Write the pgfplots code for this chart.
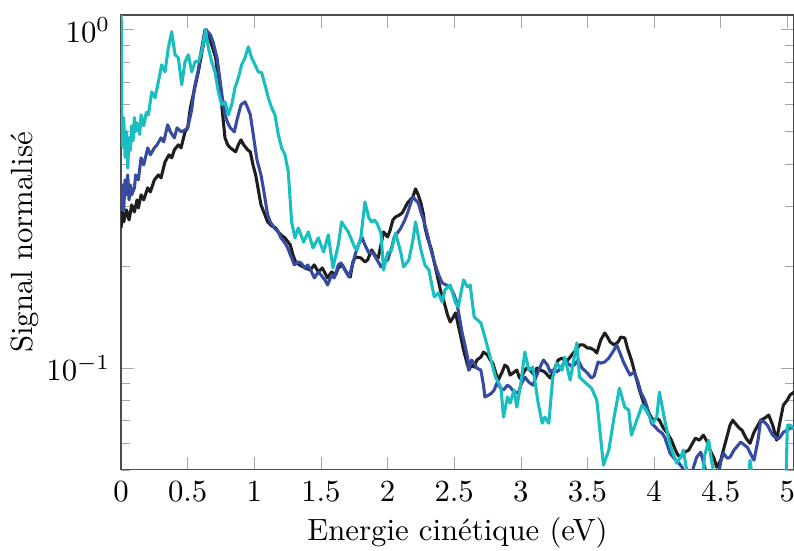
\documentclass[border=0pt]{standalone}
\usepackage{pgfplots}
\pgfplotsset{compat=1.18}
\definecolor{cblack}{RGB}{30,30,30}
\definecolor{cblue}{RGB}{55,75,160}
\definecolor{ccyan}{RGB}{25,190,192}
\begin{document}
\begin{tikzpicture}
\begin{axis}[
  scale only axis, width=219pt, height=148pt,
  ymode=log, xmin=0, xmax=5.05, ymin=0.05, ymax=1.105,
  xtick={0,0.5,1,1.5,2,2.5,3,3.5,4,4.5,5},
  xticklabels={0,0.5,1,1.5,2,2.5,3,3.5,4,4.5,5},
  xlabel={Energie cinétique (eV)}, ylabel={Signal normalisé},
  ylabel style={yshift=-4.5pt},
  xlabel style={yshift=2pt},
  axis line style={black!70},
  tick style={black!35},
  every axis plot/.append style={line width=1pt, line join=round},
]
\addplot[cblack] coordinates {
(0.00,0.2595)(0.01,0.2893)(0.02,0.2703)(0.04,0.2933)(0.06,0.2740)(0.08,0.3035)(0.10,0.2893)(0.12,0.3140)(0.13,0.2973)(0.15,0.3249)(0.17,0.3140)(0.20,0.3408)(0.22,0.3316)(0.25,0.3599)(0.28,0.3723)(0.30,0.3648)(0.33,0.4068)(0.36,0.4267)(0.38,0.4181)(0.40,0.4415)(0.43,0.4568)(0.45,0.4475)(0.48,0.4990)(0.50,0.5128)(0.52,0.5877)(0.55,0.6644)(0.58,0.7510)(0.61,0.8726)(0.64,1.0)(0.66,0.9469)(0.68,0.9028)(0.71,0.8263)(0.73,0.7113)(0.75,0.6292)(0.77,0.5235)(0.78,0.4791)(0.80,0.4568)(0.82,0.4475)(0.84,0.4415)(0.86,0.4355)(0.88,0.4568)(0.90,0.4726)(0.92,0.4568)(0.95,0.4415)(0.97,0.4355)(0.99,0.3986)(1.01,0.3723)(1.03,0.3362)(1.05,0.3035)(1.08,0.2835)(1.10,0.2703)(1.13,0.2630)(1.16,0.2595)(1.18,0.2525)(1.20,0.2474)(1.23,0.2424)(1.27,0.2311)(1.29,0.2159)(1.31,0.2059)(1.34,0.2017)(1.38,0.1976)(1.42,0.1949)(1.45,0.2017)(1.48,0.1923)(1.51,0.1976)(1.55,0.1846)(1.58,0.1923)(1.61,0.1884)(1.63,0.1976)(1.66,0.2017)(1.69,0.1923)(1.72,0.1858)(1.74,0.2059)(1.76,0.2130)(1.80,0.2116)(1.83,0.2059)(1.85,0.2087)(1.88,0.2234)(1.91,0.2144)(1.93,0.2116)(1.95,0.2311)(1.97,0.2525)(2.00,0.2440)(2.02,0.2560)(2.04,0.2740)(2.06,0.2796)(2.09,0.2835)(2.11,0.2874)(2.13,0.2973)(2.15,0.3077)(2.17,0.3140)(2.19,0.3205)(2.21,0.3385)(2.23,0.3249)(2.25,0.3077)(2.27,0.2835)(2.28,0.2612)(2.30,0.2424)(2.33,0.2234)(2.35,0.2059)(2.38,0.1821)(2.40,0.1678)(2.42,0.1589)(2.45,0.1435)(2.47,0.1368)(2.49,0.1406)(2.51,0.1455)(2.53,0.1340)(2.55,0.1235)(2.57,0.1130)(2.59,0.1056)(2.61,0.0986)(2.63,0.1020)(2.65,0.1006)(2.67,0.1056)(2.70,0.1077)(2.72,0.1115)(2.75,0.1092)(2.77,0.1056)(2.79,0.1034)(2.81,0.0973)(2.83,0.0921)(2.86,0.0973)(2.88,0.1020)(2.90,0.1006)(2.92,0.0953)(2.94,0.0966)(2.97,0.0986)(2.99,0.0934)(3.01,0.0953)(3.04,0.0999)(3.07,0.0986)(3.10,0.0953)(3.12,0.0999)(3.15,0.0986)(3.18,0.0973)(3.20,0.0953)(3.22,0.0934)(3.25,0.0986)(3.28,0.1056)(3.31,0.1070)(3.34,0.1042)(3.37,0.1077)(3.40,0.1115)(3.42,0.1130)(3.44,0.1170)(3.47,0.1170)(3.50,0.1146)(3.52,0.1146)(3.55,0.1130)(3.57,0.1107)(3.60,0.1210)(3.63,0.1269)(3.65,0.1235)(3.67,0.1194)(3.70,0.1170)(3.73,0.1194)(3.75,0.1235)(3.78,0.1227)(3.80,0.1146)(3.83,0.1056)(3.86,0.0953)(3.89,0.0861)(3.92,0.0793)(3.94,0.0751)(3.97,0.0726)(3.99,0.0701)(4.02,0.0711)(4.04,0.0701)(4.07,0.0664)(4.10,0.0642)(4.13,0.0612)(4.16,0.0572)(4.18,0.0552)(4.20,0.0545)(4.23,0.0564)(4.26,0.0572)(4.28,0.0591)(4.31,0.0620)(4.34,0.0612)(4.37,0.0633)(4.40,0.0604)(4.42,0.0572)(4.45,0.0541)(4.47,0.0509)(4.50,0.0534)(4.52,0.0572)(4.55,0.0633)(4.57,0.0678)(4.59,0.0701)(4.62,0.0678)(4.64,0.0664)(4.66,0.0655)(4.69,0.0620)(4.72,0.0599)(4.75,0.0646)(4.78,0.0678)(4.80,0.0701)(4.83,0.0711)(4.86,0.0726)(4.89,0.0678)(4.92,0.0612)(4.94,0.0678)(4.97,0.0777)(5.00,0.0804)(5.02,0.0832)(5.05,0.0849)
};
\addplot[cblue] coordinates {
(0.00,0.3140)(0.01,0.3478)(0.02,0.2933)(0.03,0.3599)(0.04,0.3249)(0.05,0.3723)(0.06,0.3140)(0.07,0.3478)(0.08,0.3249)(0.10,0.3408)(0.11,0.3723)(0.13,0.3599)(0.15,0.4181)(0.17,0.3986)(0.20,0.4475)(0.22,0.4267)(0.25,0.4475)(0.27,0.4568)(0.30,0.4791)(0.32,0.4662)(0.35,0.5235)(0.37,0.4990)(0.40,0.4791)(0.42,0.5128)(0.45,0.4990)(0.48,0.5059)(0.50,0.5128)(0.53,0.5798)(0.55,0.6735)(0.58,0.7614)(0.60,0.8607)(0.63,1.0)(0.65,0.9864)(0.67,0.9665)(0.69,0.9214)(0.72,0.8263)(0.74,0.7210)(0.76,0.6292)(0.78,0.5604)(0.80,0.5306)(0.82,0.5128)(0.85,0.4990)(0.87,0.5416)(0.90,0.5999)(0.93,0.6123)(0.95,0.5877)(0.97,0.5604)(1.00,0.4662)(1.02,0.4124)(1.05,0.3723)(1.07,0.3362)(1.10,0.2835)(1.12,0.2703)(1.15,0.2595)(1.18,0.2525)(1.20,0.2424)(1.23,0.2342)(1.25,0.2265)(1.28,0.2116)(1.30,0.2017)(1.33,0.2059)(1.35,0.2045)(1.38,0.1976)(1.40,0.2017)(1.43,0.1923)(1.45,0.1846)(1.48,0.1923)(1.50,0.1884)(1.53,0.1821)(1.55,0.1760)(1.58,0.1884)(1.60,0.1846)(1.63,0.2017)(1.65,0.2045)(1.68,0.1949)(1.71,0.1858)(1.73,0.1976)(1.76,0.2189)(1.78,0.2311)(1.81,0.2424)(1.83,0.2311)(1.86,0.2189)(1.88,0.2204)(1.90,0.2159)(1.93,0.2059)(1.95,0.1990)(1.98,0.2059)(2.00,0.2087)(2.03,0.2265)(2.05,0.2440)(2.08,0.2525)(2.10,0.2595)(2.13,0.2740)(2.15,0.2874)(2.17,0.3035)(2.19,0.3205)(2.21,0.3140)(2.23,0.3077)(2.25,0.2893)(2.27,0.2740)(2.30,0.2474)(2.32,0.2280)(2.35,0.2059)(2.37,0.1949)(2.39,0.1858)(2.41,0.1784)(2.44,0.1760)(2.47,0.1736)(2.50,0.1644)(2.52,0.1557)(2.54,0.1406)(2.56,0.1269)(2.58,0.1170)(2.60,0.1077)(2.61,0.0986)(2.63,0.1056)(2.65,0.1034)(2.67,0.0999)(2.70,0.0986)(2.72,0.0890)(2.73,0.0821)(2.76,0.0832)(2.78,0.0843)(2.80,0.0861)(2.82,0.0902)(2.85,0.0872)(2.87,0.0861)(2.90,0.0890)(2.92,0.0878)(2.95,0.0849)(2.98,0.0843)(3.00,0.0890)(3.03,0.0940)(3.06,0.0908)(3.09,0.0890)(3.12,0.0953)(3.14,0.0999)(3.17,0.1056)(3.20,0.1020)(3.22,0.0973)(3.24,0.0986)(3.27,0.0973)(3.30,0.0999)(3.33,0.1042)(3.35,0.1034)(3.38,0.1013)(3.40,0.1020)(3.43,0.1056)(3.46,0.0999)(3.50,0.0966)(3.53,0.0934)(3.55,0.0947)(3.58,0.1042)(3.60,0.1034)(3.63,0.1042)(3.66,0.1070)(3.69,0.1115)(3.72,0.1170)(3.75,0.1092)(3.77,0.1042)(3.80,0.0986)(3.82,0.0953)(3.85,0.0973)(3.88,0.0908)(3.90,0.0849)(3.93,0.0804)(3.96,0.0741)(3.98,0.0687)(4.01,0.0669)(4.03,0.0655)(4.06,0.0642)(4.08,0.0624)(4.10,0.0591)(4.12,0.0560)(4.15,0.0541)(4.18,0.0527)(4.21,0.0509)(4.24,0.0473)(4.27,0.0466)(4.30,0.0516)(4.32,0.0545)(4.35,0.0564)(4.38,0.0509)(4.41,0.0466)(4.45,0.0450)(4.48,0.0473)(4.50,0.0527)(4.52,0.0560)(4.55,0.0541)(4.57,0.0545)(4.60,0.0572)(4.63,0.0591)(4.65,0.0604)(4.68,0.0591)(4.70,0.0583)(4.73,0.0552)(4.75,0.0534)(4.78,0.0612)(4.80,0.0701)(4.83,0.0691)(4.85,0.0678)(4.87,0.0655)(4.89,0.0633)(4.92,0.0620)(4.94,0.0620)(4.97,0.0646)(5.00,0.0655)(5.02,0.0664)(5.05,0.0664)
};
\addplot[ccyan] coordinates {
(0.000,1.3)(0.005,0.52)(0.012,0.45)(0.02,0.55)(0.03,0.42)(0.04,0.50)(0.05,0.39)(0.06,0.48)(0.07,0.44)(0.08,0.52)(0.09,0.47)(0.10,0.55)(0.11,0.50)(0.12,0.53)(0.14,0.49)(0.15,0.56)(0.17,0.52)(0.19,0.57)(0.205,0.56)(0.23,0.6554)(0.255,0.6292)(0.28,0.7016)(0.305,0.7878)(0.33,0.7510)(0.355,0.8846)(0.38,0.9864)(0.405,0.8434)(0.43,0.8263)(0.455,0.6875)(0.48,0.8040)(0.505,0.8434)(0.53,0.7510)(0.555,0.8040)(0.58,0.8040)(0.605,0.8607)(0.635,1.0)(0.655,0.8846)(0.68,0.8040)(0.705,0.7510)(0.73,0.6554)(0.755,0.5999)(0.78,0.6123)(0.805,0.5604)(0.83,0.5999)(0.855,0.6735)(0.88,0.7210)(0.905,0.7878)(0.93,0.8263)(0.955,0.8905)(0.98,0.8263)(1.005,0.7878)(1.03,0.7510)(1.055,0.7460)(1.08,0.6875)(1.105,0.6292)(1.13,0.5877)(1.155,0.5604)(1.18,0.4890)(1.205,0.4475)(1.23,0.4267)(1.255,0.3800)(1.28,0.2703)(1.305,0.2424)(1.33,0.2595)(1.37,0.2358)(1.405,0.2525)(1.44,0.2265)(1.48,0.2424)(1.52,0.2204)(1.555,0.2474)(1.59,0.1976)(1.63,0.2311)(1.655,0.2703)(1.705,0.2525)(1.755,0.2265)(1.77,0.2234)(1.80,0.2440)(1.83,0.3097)(1.86,0.2778)(1.88,0.2703)(1.90,0.2740)(1.92,0.2684)(1.95,0.2508)(1.97,0.1949)(2.00,0.2189)(2.03,0.2234)(2.06,0.2508)(2.10,0.2189)(2.12,0.1990)(2.16,0.2087)(2.19,0.2391)(2.21,0.2703)(2.25,0.2234)(2.28,0.2017)(2.31,0.1949)(2.35,0.1622)(2.38,0.1666)(2.41,0.1567)(2.43,0.1701)(2.47,0.1760)(2.51,0.1557)(2.53,0.1515)(2.57,0.1821)(2.60,0.1736)(2.62,0.1760)(2.65,0.1415)(2.70,0.1359)(2.73,0.1235)(2.77,0.1077)(2.81,0.0940)(2.85,0.0878)(2.87,0.0716)(2.90,0.0821)(2.92,0.0788)(2.95,0.0861)(2.97,0.0766)(3.00,0.0902)(3.03,0.1115)(3.06,0.0986)(3.09,0.1006)(3.13,0.0788)(3.16,0.0687)(3.18,0.0716)(3.21,0.0687)(3.24,0.0940)(3.27,0.1034)(3.31,0.0986)(3.33,0.1077)(3.37,0.0921)(3.42,0.1186)(3.44,0.0940)(3.48,0.0908)(3.53,0.0872)(3.57,0.0804)(3.62,0.0516)(3.66,0.0572)(3.70,0.0716)(3.74,0.0872)(3.78,0.0766)(3.81,0.0751)(3.83,0.0633)(3.87,0.0701)(3.91,0.0777)(3.94,0.0751)(3.99,0.0687)(4.02,0.0716)(4.04,0.0849)(4.08,0.0701)(4.12,0.0591)(4.17,0.0523)(4.20,0.0545)(4.22,0.0572)(4.25,0.0483)(4.30,0.040)(4.36,0.0466)(4.38,0.0552)(4.41,0.0612)(4.43,0.0534)(4.46,0.0466)(4.50,0.040)(4.60,0.040)(4.70,0.043)(4.72,0.0534)(4.74,0.0466)(4.80,0.040)(4.95,0.040)(4.99,0.0466)(5.00,0.0678)(5.02,0.0678)(5.05,0.0664)
};
\coordinate (bl) at (rel axis cs:0,0);
\coordinate (tr) at (rel axis cs:1,1);
\end{axis}
\pgfresetboundingbox
\path ([xshift=-39.4pt,yshift=-26.4pt]bl) rectangle ([yshift=4.9pt]tr);
\end{tikzpicture}
\end{document}
